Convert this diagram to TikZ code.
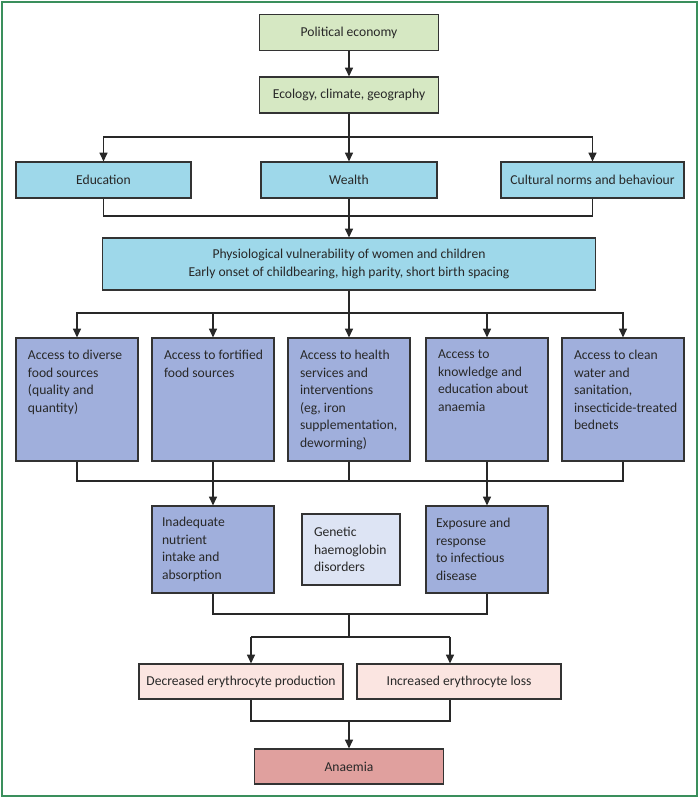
\documentclass[tikz,border=0pt]{standalone}
\usepackage{fontspec}
\setmainfont{Carlito}
\usetikzlibrary{arrows.meta}
\tikzset{every picture/.style={line width=0.75pt}}
% top aligned text of the access boxes
\newcommand{\accesstext}[1]{\parbox[c][92.25pt][t]{91.5pt}{\raggedright\leftskip=9pt\vspace*{9pt}#1}}

\begin{document}
\begin{tikzpicture}[x=0.75pt,y=0.75pt,yscale=-1,xscale=1,
  box/.style={draw={rgb, 255:red, 51; green, 51; blue, 51 }, line width=0.9pt, inner sep=0pt, minimum height=26.25pt,
    font=\fontsize{10.2}{13.2}\selectfont, text={rgb, 255:red, 40; green, 40; blue, 40 }},
  greenbox/.style={box, fill={rgb, 255:red, 214; green, 232; blue, 195 }, align=center},
  bluebox/.style={box, fill={rgb, 255:red, 158; green, 216; blue, 234 }, align=center},
  accbox/.style={box, fill={rgb, 255:red, 160; green, 175; blue, 220 }},
  midbox/.style={accbox, align=flush left, inner xsep=7.5pt, text width=76.5pt, minimum height=65.25pt},
  genbox/.style={box, fill={rgb, 255:red, 221; green, 228; blue, 244 }, align=flush left, inner xsep=9pt, text width=55.5pt, minimum height=53.25pt},
  pinkbox/.style={box, fill={rgb, 255:red, 251; green, 229; blue, 225 }, align=center, minimum width=153pt},
  redbox/.style={box, fill={rgb, 255:red, 224; green, 160; blue, 158 }, align=center},
  arr/.style={-{Triangle[length=6.5pt,width=6pt]}},
  link/.style={line width=0.9pt, draw={rgb, 255:red, 40; green, 40; blue, 40 }}]
\useasboundingbox (0,0) rectangle (700,800);

%Frame
\draw [color={rgb, 255:red, 58; green, 143; blue, 92 }, line width=1.5pt] (2,2) rectangle (697,796);

% Top boxes
\node [greenbox, minimum width=134.25pt, minimum height=27pt] (pe) at (349,32.5) {Political economy};
\node [greenbox, minimum width=134.25pt, minimum height=27pt] (eco) at (349,95) {Ecology, climate, geography};

% Determinants
\node [bluebox, minimum width=131.25pt, minimum height=27pt] (edu) at (103.5,180) {Education};
\node [bluebox, minimum width=132pt, minimum height=27pt] (wealth) at (349,180) {Wealth};
\node [bluebox, minimum width=137.25pt, minimum height=27pt] (cult) at (592.5,180) {Cultural norms and behaviour};
\node [bluebox, minimum width=369.75pt, minimum height=39pt] (phys) at (349,264) {Physiological vulnerability of women and children\\Early onset of childbearing, high parity, short birth spacing};

% Access boxes
\node [accbox] (food) at (77,399.5) {\accesstext{Access to diverse\\food sources\\(quality and\\quantity)}};
\node [accbox] (fort) at (213,399.5) {\accesstext{Access to fortified\\food sources}};
\node [accbox] (health) at (349,399.5) {\accesstext{Access to health\\services and\\interventions\\(eg, iron\\supplementation,\\deworming)}};
\node [accbox] (know) at (487,399.5) {\accesstext{Access to\\knowledge and\\education about\\anaemia}};
\node [accbox] (water) at (623,399.5) {\accesstext{Access to clean\\water and\\sanitation,\\insecticide-treated\\bednets}};

% Causes
\node [midbox] (inad) at (213,549.5) {Inadequate\\nutrient\\intake and\\absorption};
\node [genbox] (gen) at (351,549.5) {Genetic\\haemoglobin\\disorders};
\node [midbox] (expo) at (487,549.5) {Exposure and\\response\\to infectious\\disease};

% Outcomes
\node [pinkbox] (dec) at (241,681.5) {Decreased erythrocyte production};
\node [pinkbox] (inc) at (459,681.5) {Increased erythrocyte loss};
\node [redbox, minimum width=141.75pt] (anaemia) at (349,766.5) {Anaemia};

% Junctions
\coordinate (j1) at (349,137);
\coordinate (j2) at (349,216);
\coordinate (j3) at (349,313);
\coordinate (j4) at (349,481);
\coordinate (j5) at (349,614);
\coordinate (j6) at (349,637);
\coordinate (j6l) at (251,637);
\coordinate (j6r) at (450,637);
\coordinate (j7) at (349,721);

%Straight Lines
\draw [link, arr] (pe) -- (eco);
\draw [link] (eco) -- (j1);
\draw [link, arr] (j1) -| (edu.north);
\draw [link, arr] (j1) -- (wealth);
\draw [link, arr] (j1) -| (cult.north);
\draw [link] (edu.south) |- (j2) -| (cult.south);
\draw [link] (wealth) -- (j2);
\draw [link, arr] (j2) -- (phys);
\draw [link] (phys) -- (j3);
\draw [link, arr] (j3) -| (food.north);
\draw [link, arr] (j3) -| (fort.north);
\draw [link, arr] (j3) -- (health);
\draw [link, arr] (j3) -| (know.north);
\draw [link, arr] (j3) -| (water.north);
\draw [link] (food.south) |- (j4) -| (water.south);
\draw [link] (health) -- (j4);
\draw [link, arr] (fort) -- (inad);
\draw [link, arr] (know) -- (expo);
\draw [link] (inad.south) |- (j5) -| (expo.south);
\draw [link] (j5) -- (j6);
\draw [link] (j6l) -- (j6r);
\draw [link, arr] (j6l) -- (j6l |- dec.north);
\draw [link, arr] (j6r) -- (j6r |- inc.north);
\draw [link] (j6l |- dec.south) |- (j7) -| (j6r |- inc.south);
\draw [link, arr] (j7) -- (anaemia);

\end{tikzpicture}
\end{document}
